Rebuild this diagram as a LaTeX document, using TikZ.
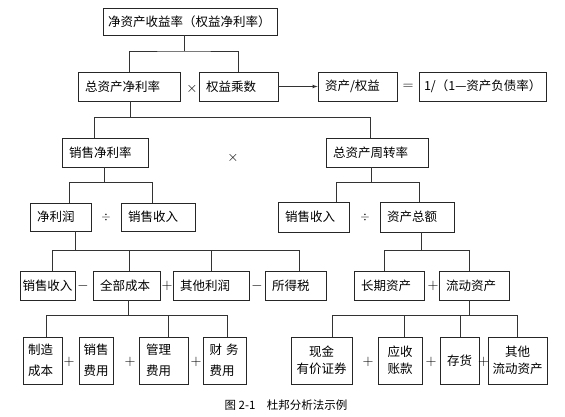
\documentclass[tikz,border=0pt]{standalone}
\usepackage{fontspec}
\setmainfont{Noto Sans CJK SC}
\usetikzlibrary{arrows}

\tikzset{
  box/.style={draw=black!85, line width=0.9pt, inner xsep=7pt, inner ysep=0pt, minimum height=29pt, align=left, font=\fontsize{12.5}{15}\selectfont},
  tall/.style={minimum height=47pt, font=\fontsize{12.5}{21}\selectfont},
  tallb/.style={minimum height=47pt, align=center, font=\fontsize{12.5}{17}\selectfont},
  link/.style={draw=black!80, line width=0.7pt},
  sign/.style={inner sep=0pt, font=\Large},
  smallsign/.style={inner sep=0pt, font=\large},
}

\begin{document}
\begin{tikzpicture}[x=1pt, y=-1pt]

    \useasboundingbox (0,0) rectangle (565,416);

    %nodes
    \node[box, inner xsep=5pt, text width=164pt, minimum height=27pt] (roe) at (190,21.5) {净资产收益率（权益净利率）};
    \node[box, text width=88pt] (roa) at (129,86.5) {总资产净利率};
    \node[box, text width=65pt] (em) at (238.5,86.5) {权益乘数};
    \node[box, text width=65pt] (ae) at (357.5,86.5) {资产/权益};
    \node[box, inner xsep=5pt, text width=117pt] (dr) at (482.5,86.5) {\mbox{1/（1—资产负债率）}};
    \node[box, text width=72pt] (ros) at (105,152.5) {销售净利率};
    \node[box, text width=88pt] (tat) at (377,152.5) {总资产周转率};
    \node[box, text width=47pt, minimum height=28pt] (np) at (60.5,217) {净利润};
    \node[box, text width=60pt, minimum height=28pt] (sr1) at (158,217) {销售收入};
    \node[box, text width=57pt, minimum height=30pt] (sr2) at (313.5,217) {销售收入};
    \node[box, text width=60pt, minimum height=30pt] (ta) at (417,217) {资产总额};
    \node[box, inner xsep=2.5pt, text width=50pt] (sr3) at (47.5,285.5) {销售收入};
    \node[box, text width=53pt] (tc) at (126.5,285.5) {全部成本};
    \node[box, text width=62pt] (op) at (211,285.5) {其他利润};
    \node[box, text width=47pt] (tax) at (295.5,285.5) {所得税};
    \node[box, text width=56pt] (la) at (389,285.5) {长期资产};
    \node[box, text width=56pt] (ca) at (474,285.5) {流动资产};
    \node[box, tall, inner xsep=5pt, text width=29pt] (mc) at (42.5,360.5) {制造\\成本};
    \node[box, tall, inner xsep=4.5pt, text width=25pt] (sc) at (96,360.5) {销售\\费用};
    \node[box, tall, text width=35pt] (ac) at (163.5,360.5) {管理\\费用};
    \node[box, tall, inner xsep=6.5pt, text width=30pt] (fc) at (224.5,360.5) {财 务\\费用};
    \node[box, tallb, inner xsep=5pt, text width=51pt] (cash) at (321.5,360.5) {现金\\有价证券};
    \node[box, tallb, inner xsep=5pt, text width=34pt] (ar) at (400,360.5) {应收\\账款};
    \node[box, tallb, inner xsep=5pt, text width=29pt] (inv) at (459.5,360.5) {存货};
    \node[box, tallb, inner xsep=4.5pt, text width=50pt] (oca) at (517.5,360.5) {其他\\流动资产};
    \node[font=\fontsize{11.5}{12}\selectfont] (cap) at (286,405) {图 2-1\quad 杜邦分析法示例};

    % signs
    \node[sign] (s1) at (192,89) {$\times$};
    \node[sign] (s2) at (408,87) {$=$};
    \node[sign] (s3) at (233,158) {$\times$};
    \node[smallsign] (s4) at (106,217) {$\div$};
    \node[smallsign] (s5) at (365,217) {$\div$};
    \node[sign] (s6) at (83,285.5) {$-$};
    \node[sign] (s7) at (167,285.5) {$+$};
    \node[sign] (s8) at (257,285.5) {$-$};
    \node[sign] (s9) at (433,285.5) {$+$};
    \node[sign] (s10) at (69,362) {$+$};
    \node[sign] (s11) at (130,362) {$+$};
    \node[sign] (s12) at (196,362) {$+$};
    \node[sign] (s13) at (368,362) {$+$};
    \node[sign] (s14) at (431,362) {$+$};
    \node[sign] (s15) at (483.5,362) {$+$};

    % bus points
    \coordinate (j1) at (184,51);
    \coordinate (j2) at (130,117);
    \coordinate (j2l) at (94,117);
    \coordinate (j2r) at (370,117);
    \coordinate (j3) at (104,182);
    \coordinate (j3l) at (69,182);
    \coordinate (j3r) at (152,182);
    \coordinate (j4) at (371,182);
    \coordinate (j4l) at (336,182);
    \coordinate (j4r) at (419,182);
    \coordinate (j5) at (75,250);
    \coordinate (j5a) at (52,250);
    \coordinate (j5b) at (129,250);
    \coordinate (j5c) at (211,250);
    \coordinate (j5d) at (299,250);
    \coordinate (j6) at (421,250);
    \coordinate (j6l) at (384,250);
    \coordinate (j6r) at (469,250);
    \coordinate (j7) at (128,315);
    \coordinate (j7a) at (46,315);
    \coordinate (j7b) at (168,315);
    \coordinate (j7c) at (227,315);
    \coordinate (j8) at (469,315);
    \coordinate (j8a) at (332,315);
    \coordinate (j8b) at (404,315);
    \coordinate (j8c) at (460,315);
    \coordinate (j8d) at (517,315);

    % edges
    \draw[link] (roe.south -| j1) -- (j1);
    \draw[link] (roa.north) |- (j1) -| (em.north);
    \draw[link, -latex] (em) -- (ae);
    \draw[link] (roa.south -| j2) -- (j2);
    \draw[link] (ros.north -| j2l) -- (j2l) -- (j2r) -- (tat.north -| j2r);
    \draw[link] (ros.south -| j3) -- (j3);
    \draw[link] (np.north -| j3l) -- (j3l) -- (j3r) -- (sr1.north -| j3r);
    \draw[link] (tat.south -| j4) -- (j4);
    \draw[link] (sr2.north -| j4l) -- (j4l) -- (j4r) -- (ta.north -| j4r);
    \draw[link] (np.south -| j5) -- (j5);
    \draw[link] (sr3.north -| j5a) -- (j5a) -- (j5d) -- (tax.north -| j5d);
    \draw[link] (j5b) -- (tc.north -| j5b);
    \draw[link] (j5c) -- (op.north -| j5c);
    \draw[link] (ta.south -| j6) -- (j6);
    \draw[link] (la.north -| j6l) -- (j6l) -- (j6r) -- (ca.north -| j6r);
    \draw[link] (tc.south -| j7) -- (j7);
    \draw[link] (mc.north -| j7a) -- (j7a) -- (j7c) -- (fc.north -| j7c);
    \draw[link] (j7b) -- (ac.north -| j7b);
    \draw[link] (ca.south -| j8) -- (j8);
    \draw[link] (cash.north -| j8a) -- (j8a) -- (j8d) -- (oca.north -| j8d);
    \draw[link] (j8b) -- (ar.north -| j8b);
    \draw[link] (j8c) -- (inv.north -| j8c);

\end{tikzpicture}
\end{document}
